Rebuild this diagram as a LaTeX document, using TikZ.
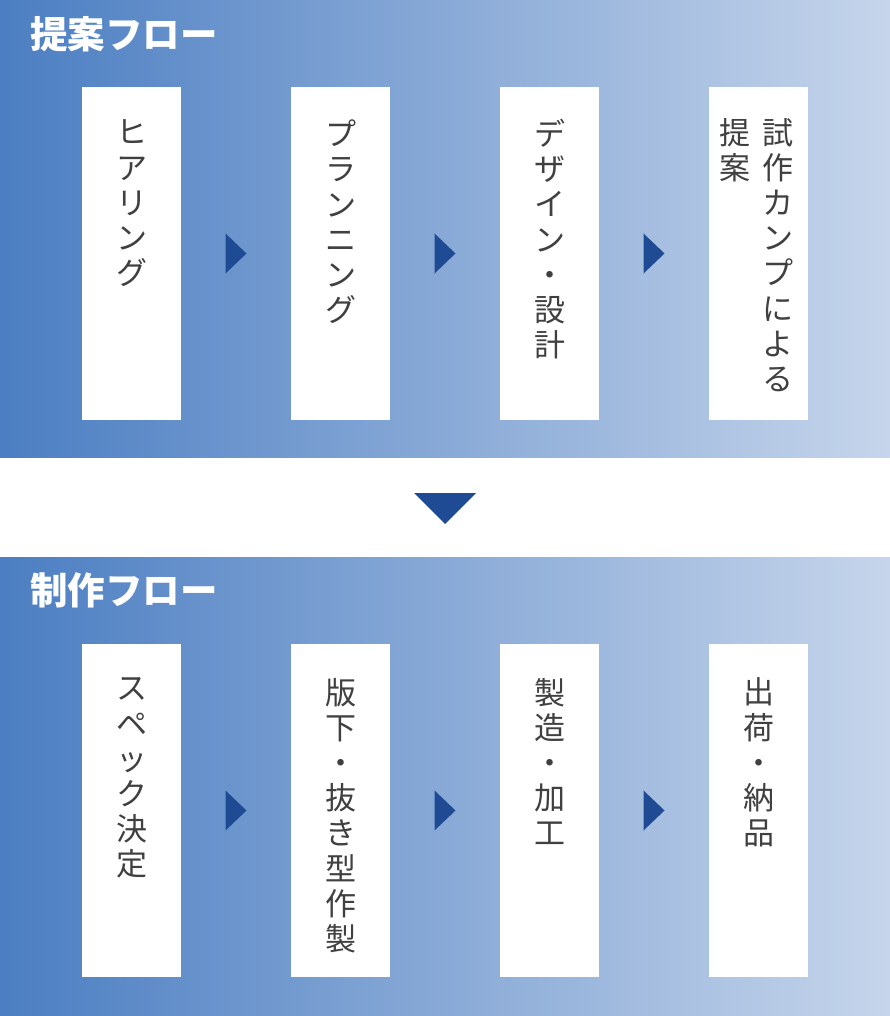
\documentclass[tikz,border=0pt]{standalone}
\usepackage{fontspec}
\setmainfont{Noto Sans CJK JP}
\usetikzlibrary{calc}
\definecolor{panelleft}{HTML}{4B7EC2}
\definecolor{panelright}{HTML}{C6D5EB}
\definecolor{marknavy}{HTML}{1F4A94}
\definecolor{textgray}{HTML}{404040}
\tikzset{
	panel/.style	= {rectangle, inner sep=0, minimum width=890, minimum height=457, left color=panelleft, right color=panelright},
	flowbox/.style	= {rectangle, inner sep=0, fill=white, minimum width=99, minimum height=333},
	flowtext/.style	= {anchor=north, inner sep=0, align=center, text=textgray, font=\fontsize{31}{35.2}\selectfont},
	flowtitle/.style	= {anchor=west, inner sep=0, text=white, font=\bfseries\fontsize{37.5}{37.5}\selectfont},
	marktri/.style	= {fill=marknavy}
}
\begin{document}
\begin{tikzpicture}[x=1pt,y=-1pt]
	\useasboundingbox (0,0) rectangle (890,1016);
	% panels
	\node (P1) at (445, 228.5)	[panel]	{};
	\node (P2) at (445, 786.5)	[panel, minimum height=459]	{};
	\node (T1) at ( 30,  34.5)	[flowtitle]	{提案フロー};
	\node (T2) at ( 30, 590)	[flowtitle]	{制作フロー};
	% upper row
	\node (H1) at (131.5, 253.5)	[flowbox]	{};
	\node (H2) at (340.5, 253.5)	[flowbox]	{};
	\node (H3) at (549.5, 253.5)	[flowbox]	{};
	\node (H4) at (758.5, 253.5)	[flowbox]	{};
	\node (H1t) at ($(H1.north)+(0,33)$)	[flowtext]	{ヒ\\ア\\リ\\ン\\グ};
	\node (H2t) at ($(H2.north)+(0,33)$)	[flowtext]	{プ\\ラ\\ン\\ニ\\ン\\グ};
	\node (H3t) at ($(H3.north)+(0,32)$)	[flowtext]	{デ\\ザ\\イ\\ン\\・\\設\\計};
	\node (H4t) at ($(H4.north)+(19,31)$)	[flowtext]	{試\\作\\カ\\ン\\プ\\に\\よ\\る};
	\node (H4u) at ($(H4.north)+(-23.5,31)$)	[flowtext]	{提\\案};
	% lower row
	\node (L1) at (131.5, 810.5)	[flowbox]	{};
	\node (L2) at (340.5, 810.5)	[flowbox]	{};
	\node (L3) at (549.5, 810.5)	[flowbox]	{};
	\node (L4) at (758.5, 810.5)	[flowbox]	{};
	\node (L1t) at ($(L1.north)+(0,34)$)	[flowtext]	{ス\\ペ\\ッ\\ク\\決\\定};
	\node (L2t) at ($(L2.north)+(0,34)$)	[flowtext]	{版\\下\\・\\抜\\き\\型\\作\\製};
	\node (L3t) at ($(L3.north)+(0,34)$)	[flowtext]	{製\\造\\・\\加\\工};
	\node (L4t) at ($(L4.north)+(0,34)$)	[flowtext]	{出\\荷\\・\\納\\品};
	% markers
	\foreach \a/\b in {H1/H2, H2/H3, H3/H4, L1/L2, L2/L3, L3/L4}
		\fill[marktri] ($(\a.east)!.5!(\b.west)$) ++(-10.5,-20) -- ++(21,20) -- ++(-21,20) -- cycle;
	\fill[marktri] ($(P1.south)!.5!(P2.north)$) ++(-31,-14) -- ++(62,0) -- ++(-31,31) -- cycle;
\end{tikzpicture}
\end{document}
